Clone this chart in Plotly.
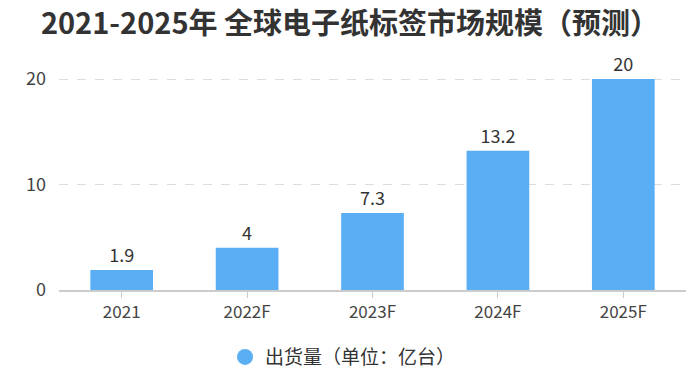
import plotly.graph_objects as go

categories = ["2021", "2022F", "2023F", "2024F", "2025F"]
shipments = [1.9, 4, 7.3, 13.2, 20]
series_name = "出货量（单位：亿台）"
title_text = "2021-2025年 全球电子纸标签市场规模（预测）"

bar_color = "#5aaef4"
font_family = "Noto Sans CJK SC"

fig = go.Figure()
fig.add_trace(go.Bar(
    x=categories, y=shipments,
    marker=dict(color=bar_color, line=dict(width=0)),
    width=0.5,
    text=[str(v) for v in shipments],
    textposition="outside",
    textfont=dict(size=18, color="#333333", family=font_family),
    cliponaxis=False,
    showlegend=False,
))
fig.add_trace(go.Scatter(
    x=[None], y=[None], mode="markers", name=series_name,
    marker=dict(symbol="circle", size=17, color=bar_color),
))

fig.update_layout(
    width=700, height=381,
    margin=dict(l=59, r=14, t=77, b=91, autoexpand=False),
    paper_bgcolor="white", plot_bgcolor="white",
    font=dict(family=font_family, color="#333333"),
    title=dict(text="<b>" + title_text + "</b>", x=0.5, xanchor="center",
               y=0.937, yanchor="middle",
               font=dict(size=29, color="#333333", family=font_family)),
    showlegend=True,
    legend=dict(orientation="h", x=0.453, xanchor="center", y=-0.315, yanchor="middle",
                font=dict(size=19, color="#333333", family=font_family)),
    bargap=0.5,
)
fig.update_xaxes(
    automargin=False,
    showline=True, linecolor="#cccccc", linewidth=1.5,
    ticks="outside", ticklen=6, tickcolor="#cccccc",
    tickfont=dict(size=17, color="#444444"),
    showgrid=False,
)
fig.update_yaxes(
    automargin=False,
    range=[0, 20.2], tickvals=[0, 10, 20],
    showgrid=True, gridcolor="#dddddd", griddash="dash", gridwidth=1,
    zeroline=False, showline=False,
    tickfont=dict(size=18, color="#444444"),
    ticklabelstandoff=12,
)

fig.write_html("out.html", config={"displayModeBar": False},
               post_script="document.body.style.margin='0';")
